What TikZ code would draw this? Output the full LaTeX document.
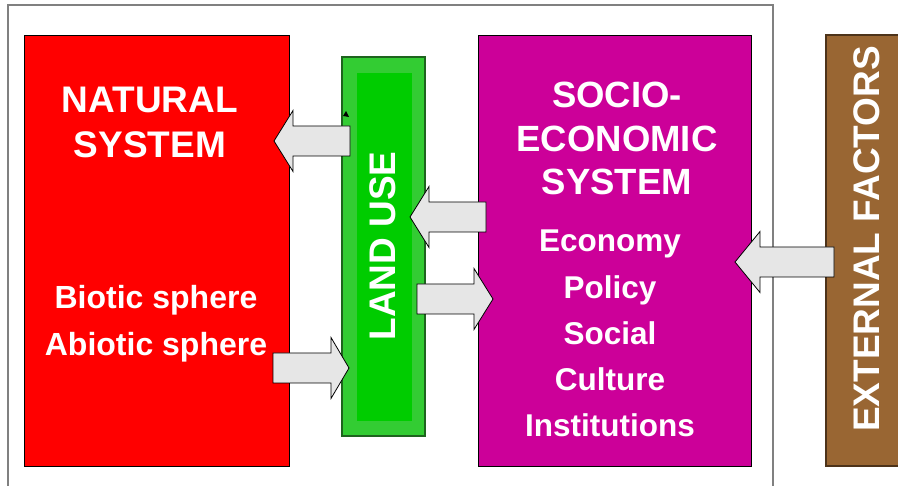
\documentclass[tikz,border=0pt]{standalone}
\usepackage{fontspec}
\setmainfont{Liberation Sans}
\newlength{\px}
\setlength{\px}{1pt}
\definecolor{cadre}{RGB}{128,128,128}
\definecolor{naturel}{RGB}{255,0,0}
\definecolor{usage}{RGB}{51,204,51}
\definecolor{usagefond}{RGB}{0,204,0}
\definecolor{usagebord}{RGB}{30,100,30}
\definecolor{socio}{RGB}{204,0,153}
\definecolor{externe}{RGB}{153,102,51}
\definecolor{externebord}{RGB}{77,51,26}
\definecolor{fleche}{RGB}{230,230,230}
\newcommand{\BlockArrow}[4]{%
	\pgfmathsetmacro{\SG}{sign(#2-#1)}%
	\pgfmathsetmacro{\HX}{#2-\SG*#4}%
	\draw[bloc] (#1,#3-15) -- (\HX,#3-15) -- (\HX,#3-30.5) -- (#2,#3)
	-- (\HX,#3+30.5) -- (\HX,#3+15) -- (#1,#3+15) -- cycle;
}

\begin{document}
\begin{tikzpicture}[x=\px,y=-\px,
	bloc/.style={draw=black,line width=0.8pt,fill=fleche,line join=miter},
	titre/.style={text=white,font=\bfseries\fontsize{37}{45}\selectfont,align=center,inner sep=0pt},
	liste/.style={text=white,font=\bfseries\fontsize{31.5}{46.25}\selectfont,align=center,inner sep=0pt}]
	
	\useasboundingbox (0,0) rectangle (898,486);
	
	% cadre (ouvert en bas)
	\draw[line width=2pt,color=cadre] (8,487) -- (8,5) -- (773,5) -- (773,487);
	
	% --- blocs ---
	\draw[line width=0.8pt,fill=naturel] (24,35) rectangle (289,466);
	\draw[line width=1.2pt,draw=usagebord,fill=usage] (342,57) rectangle (425,436);
	\fill[usagefond] (357,73) rectangle (412,421);
	\draw[line width=0.8pt,fill=socio] (478,35) rectangle (751,466);
	\draw[line width=1.2pt,draw=externebord,fill=externe] (826,35) rectangle (905,466);
	
	% --- textes ---
	\node[titre,anchor=north] (naturel) at (150,87) {NATURAL\\SYSTEM};
	\node[liste,anchor=north,font=\bfseries\fontsize{32}{47}\selectfont] (spheres) at (156,285) {Biotic sphere\\Abiotic sphere};
	\node[titre,rotate=90] (landuse) at (383,246) {LAND USE};
	\node[titre,anchor=north,font=\bfseries\fontsize{36.5}{43.5}\selectfont] (socioeco) at (617,82) {SOCIO-\\ECONOMIC\\SYSTEM};
	\node[liste,anchor=north] (secteurs) at (610,230) {Economy\\Policy\\Social\\Culture\\Institutions};
	\node[titre,rotate=90] (externe) at (867,239) {EXTERNAL FACTORS};
	
	% --- flèches ---
	\BlockArrow{350}{274}{141}{19}
	\BlockArrow{273}{349}{368}{18}
	\BlockArrow{486}{410}{217}{19}
	\BlockArrow{417}{493}{299}{19}
	\BlockArrow{834}{735}{262}{25}
	\fill (346,111) -- (349,117) -- (343,116) -- cycle;
	
\end{tikzpicture}
\end{document}
